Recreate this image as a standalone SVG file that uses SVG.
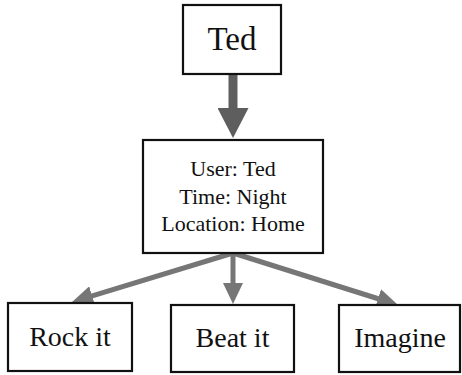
<svg xmlns="http://www.w3.org/2000/svg" width="462" height="375" viewBox="0 0 462 375">
  <style>
    .box { fill: #ffffff; stroke: #111111; stroke-width: 2.2; }
    .txt { font-family: "Liberation Serif", "Times New Roman", serif; fill: #111111; text-anchor: middle; }
    .thin { stroke: #767676; stroke-width: 5; fill: none; }
    .thick { stroke: #5e5e5e; stroke-width: 9; fill: none; }
  </style>
  <defs>
    <marker id="headThin" viewBox="0 0 21 20" refX="11" refY="10" markerWidth="21" markerHeight="20" markerUnits="userSpaceOnUse" orient="auto">
      <path d="M0,0 L21,10 L0,20 z" fill="#767676"/>
    </marker>
    <marker id="headThick" viewBox="0 0 30 31" refX="15" refY="15.5" markerWidth="30" markerHeight="31" markerUnits="userSpaceOnUse" orient="auto">
      <path d="M0,0 L30,15.5 L0,31 z" fill="#5e5e5e"/>
    </marker>
  </defs>
  <g id="connectors">
    <line class="thick" x1="233" y1="74" x2="233" y2="123" marker-end="url(#headThick)"/>
    <line class="thin" x1="233" y1="253" x2="81.6" y2="299.1" marker-end="url(#headThin)"/>
    <line class="thin" x1="233" y1="253" x2="233" y2="294" marker-end="url(#headThin)"/>
    <line class="thin" x1="233" y1="253" x2="388.5" y2="302" marker-end="url(#headThin)"/>
  </g>
  <g id="node-ted">
    <rect class="box" x="183" y="5" width="98" height="69"/>
    <text class="txt" x="232" y="50" font-size="33">Ted</text>
  </g>
  <g id="node-context">
    <rect class="box" x="143" y="140" width="180" height="113"/>
    <text class="txt" x="233" y="176" font-size="22">User: Ted</text>
    <text class="txt" x="233" y="203.5" font-size="22">Time: Night</text>
    <text class="txt" x="233" y="231" font-size="22">Location: Home</text>
  </g>
  <g id="node-rock">
    <rect class="box" x="8" y="303" width="124" height="68"/>
    <text class="txt" x="70" y="346" font-size="28">Rock it</text>
  </g>
  <g id="node-beat">
    <rect class="box" x="171" y="305" width="123" height="67"/>
    <text class="txt" x="232.5" y="347" font-size="28">Beat it</text>
  </g>
  <g id="node-imagine">
    <rect class="box" x="339" y="305" width="121" height="67"/>
    <text class="txt" x="400" y="347" font-size="28">Imagine</text>
  </g>
</svg>
